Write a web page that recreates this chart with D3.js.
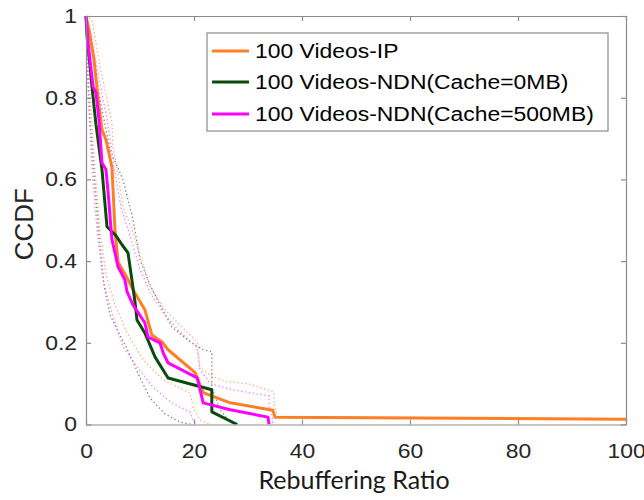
<!DOCTYPE html>
<html>
<head>
<meta charset="utf-8">
<script src="https://cdn.jsdelivr.net/npm/d3@7"></script>
<style>
  body { margin: 0; background: #fff; }
  svg { display: block; }
</style>
</head>
<body>
<div id="chart"></div>
<script>
const outerWidth = 644;
const outerHeight = 500;
const margin = {top: 16, right: 18, bottom: 75.5, left: 86};
const stretch = 1.145;   // the reference text is a bit wider than Arial

// ** Data: [rebuffering ratio, CCDF]
const seriesNames = ["100 Videos-IP", "100 Videos-NDN(Cache=0MB)", "100 Videos-NDN(Cache=500MB)"];
const seriesColors = ["#ff7f27", "#0a4a0a", "#ff00ff"];
const boundColors = ["#ff9a5a", "#5f6f5f", "#ff5cff"];

const ipCurve = [[0,1],[0.56,0.967],[1.48,0.893],[2.22,0.80],[2.96,0.722],[3.7,0.697],[4.81,0.629],
  [5.37,0.477],[5.93,0.398],[7.6,0.359],[8.7,0.330],[10.9,0.281],[12.2,0.219],[14.1,0.202],
  [15.2,0.183],[20.2,0.127],[21.7,0.078],[26.7,0.053],[34.6,0.035],[35,0.018],[100,0.013]];
const ndn0Curve = [[0,1],[0.2,0.95],[1.11,0.827],[1.85,0.734],[2.96,0.624],[3.89,0.484],[5.56,0.462],
  [6.67,0.440],[7.78,0.420],[8.5,0.354],[9.07,0.300],[9.44,0.256],[10.9,0.224],[12.8,0.165],
  [15.2,0.114],[23.3,0.085],[23.3,0.031],[28,0]];
const ndn500Curve = [[0,1],[0.37,0.935],[1.3,0.827],[1.85,0.812],[2.4,0.746],[2.96,0.641],[3.7,0.624],
  [4.26,0.543],[4.63,0.477],[4.81,0.452],[5.37,0.420],[5.93,0.386],[7.2,0.354],[7.6,0.325],
  [8.7,0.293],[10.9,0.249],[11.5,0.214],[13.7,0.200],[14.3,0.175],[15.2,0.151],[20.6,0.114],
  [21.7,0.053],[26.7,0.036],[33.7,0.018],[33.9,0]];

// dotted confidence bounds (lower / upper) for each series
const ipLower = [[0,1],[0.37,0.917],[0.93,0.770],[1.67,0.623],[2.59,0.476],[3.7,0.366],[5.37,0.293],
  [7.6,0.224],[10.6,0.158],[14.3,0.109],[19.3,0.077],[19.8,0.043],[21.1,0.011],[22.9,0]];
const ipUpper = [[0,1],[1.11,0.99],[2.59,0.876],[4.81,0.739],[5,0.68],[5.93,0.612],[6.85,0.533],
  [8.5,0.478],[10,0.416],[11.85,0.337],[14.6,0.281],[17.4,0.244],[19.8,0.212],[20.6,0.202],
  [21.1,0.141],[23,0.12],[26,0.105],[30,0.1],[34.8,0.08],[34.8,0.05],[35.5,0.02],[100,0.013]];
const ndn0Lower = [[0,1],[0.19,0.893],[0.74,0.746],[1.48,0.612],[2.4,0.464],[3.33,0.342],[4.44,0.268],
  [6.3,0.219],[8.15,0.170],[10,0.114],[11.85,0.065],[14.6,0.026],[17.4,0.006],[19.6,0]];
const ndn0Upper = [[0,1],[1.11,0.918],[2.59,0.795],[4.44,0.673],[6.85,0.599],[8.7,0.502],[10,0.403],
  [11.85,0.342],[13.7,0.293],[15.9,0.239],[19.3,0.202],[21.7,0.183],[23.3,0.178],[23.3,0.09],
  [24.8,0.036],[26.7,0.006],[28,0]];
const ndn500Lower = [[0,1],[0.19,0.905],[0.56,0.770],[1.11,0.623],[2.04,0.476],[3.15,0.354],[4.44,0.288],
  [6.85,0.190],[9.44,0.141],[12.4,0.092],[15.6,0.055],[19.3,0.030],[19.6,0.016],[20.4,0]];
const ndn500Upper = [[0,1],[1,0.95],[2.2,0.86],[4,0.74],[5.2,0.63],[6.5,0.53],[8.2,0.46],[10,0.38],
  [12,0.32],[14.5,0.27],[17.5,0.225],[20.5,0.19],[21.1,0.135],[23,0.1],[27,0.085],[33.9,0.07],
  [33.9,0.04],[34.5,0.02],[34.6,0]];

const xTicks = [0, 20, 40, 60, 80, 100];
const yTicks = [0, 0.2, 0.4, 0.6, 0.8, 1];

const curves = [ipCurve, ndn0Curve, ndn500Curve];
const bounds = [[ipLower, ipUpper], [ndn0Lower, ndn0Upper], [ndn500Lower, ndn500Upper]];

const innerWidth = outerWidth - margin.left - margin.right;
const innerHeight = outerHeight - margin.top - margin.bottom;

const svg = d3.select("#chart").append("svg")
    .attr("width", outerWidth)
    .attr("height", outerHeight);

const x = d3.scaleLinear().domain([0, 100]).range([0, innerWidth]);
const y = d3.scaleLinear().domain([0, 1]).range([innerHeight, 0]);

const g = svg.append("g")
    .attr("transform", `translate(${margin.left},${margin.top})`);

g.append("clipPath").attr("id", "plotClip")
  .append("rect")
    .attr("x", -2).attr("y", -2)
    .attr("width", innerWidth + 4).attr("height", innerHeight + 2);

const line = d3.line().x(d => x(d[0])).y(d => y(d[1]));

const plot = g.append("g").attr("clip-path", "url(#plotClip)");

// dotted bounds go underneath the solid curves
bounds.forEach((pair, i) => {
    pair.forEach(b => {
        plot.append("path")
            .datum(b)
            .attr("fill", "none")
            .attr("stroke", boundColors[i])
            .attr("stroke-width", 1.3)
            .attr("stroke-dasharray", "1.3,2.6")
            .attr("opacity", 0.85)
            .attr("d", line);
    });
});

curves.forEach((c, i) => {
    plot.append("path")
        .datum(c)
        .attr("fill", "none")
        .attr("stroke", seriesColors[i])
        .attr("stroke-width", 3)
        .attr("stroke-linejoin", "round")
        .attr("d", line);
});

// widen text glyphs instead of scaling the whole element
function widen(sel) {
    sel.each(function() {
        const w = this.getComputedTextLength();
        d3.select(this)
            .attr("textLength", w * stretch)
            .attr("lengthAdjust", "spacingAndGlyphs");
    });
}

// ** Axes, MATLAB style: box with inward ticks on all four sides
const axisColor = "#8c8c8c";
const tickFont = "'Liberation Sans', Arial, sans-serif";

const xAxis = g.append("g")
    .attr("transform", `translate(0,${innerHeight})`)
    .call(d3.axisBottom(x).tickValues(xTicks).tickSizeInner(-5).tickSizeOuter(0).tickPadding(19));
const xAxisTop = g.append("g")
    .call(d3.axisTop(x).tickValues(xTicks).tickSizeInner(-5).tickSizeOuter(0));
const yAxis = g.append("g")
    .call(d3.axisLeft(y).tickValues(yTicks).tickSizeInner(-5).tickSizeOuter(0).tickPadding(9)
          .tickFormat(d3.format("~g")));
const yAxisRight = g.append("g")
    .attr("transform", `translate(${innerWidth},0)`)
    .call(d3.axisRight(y).tickValues(yTicks).tickSizeInner(-5).tickSizeOuter(0));

// top/right axes carry only tick marks
xAxisTop.selectAll(".tick text").remove();
yAxisRight.selectAll(".tick text").remove();

[xAxis, xAxisTop, yAxis, yAxisRight].forEach(a => {
    a.select(".domain").attr("stroke", axisColor).attr("stroke-width", 1.2);
    a.selectAll(".tick line").attr("stroke", axisColor).attr("stroke-width", 1.2);
});

[xAxis, yAxis].forEach(a => {
    a.selectAll(".tick text")
        .attr("fill", "#262626")
        .style("font-family", tickFont)
        .style("font-size", "20px")
        .call(widen);
});

// axis titles
svg.append("text")
    .attr("transform", `translate(33,${margin.top + innerHeight / 2 + 4}) rotate(-90)`)
    .attr("text-anchor", "middle")
    .style("font-family", tickFont)
    .style("font-size", "26px")
    .attr("fill", "#262626")
    .text("CCDF");

svg.append("text")
    .attr("x", margin.left + innerWidth / 2 - 2)
    .attr("y", 489)
    .attr("text-anchor", "middle")
    .style("font-family", "Lato, 'Open Sans', sans-serif")
    .style("font-size", "25px")
    .attr("fill", "#1a1a1a")
    .text("Rebuffering Ratio");

// ** Legend
const legend = svg.append("g").attr("transform", "translate(207,33)");
legend.append("rect")
    .attr("width", 401).attr("height", 98)
    .attr("fill", "#fff")
    .attr("stroke", "#8c8c8c")
    .attr("stroke-width", 1.2);

const rowY = [18, 49, 81];
seriesNames.forEach((name, i) => {
    legend.append("line")
        .attr("x1", 5).attr("x2", 42)
        .attr("y1", rowY[i]).attr("y2", rowY[i])
        .attr("stroke", seriesColors[i])
        .attr("stroke-width", 3);
    legend.append("text")
        .attr("x", 48).attr("y", rowY[i])
        .attr("dy", "0.36em")
        .style("font-family", tickFont)
        .style("font-size", "20px")
        .attr("fill", "#000")
        .text(name)
        .call(widen);
});
</script>
</body>
</html>
